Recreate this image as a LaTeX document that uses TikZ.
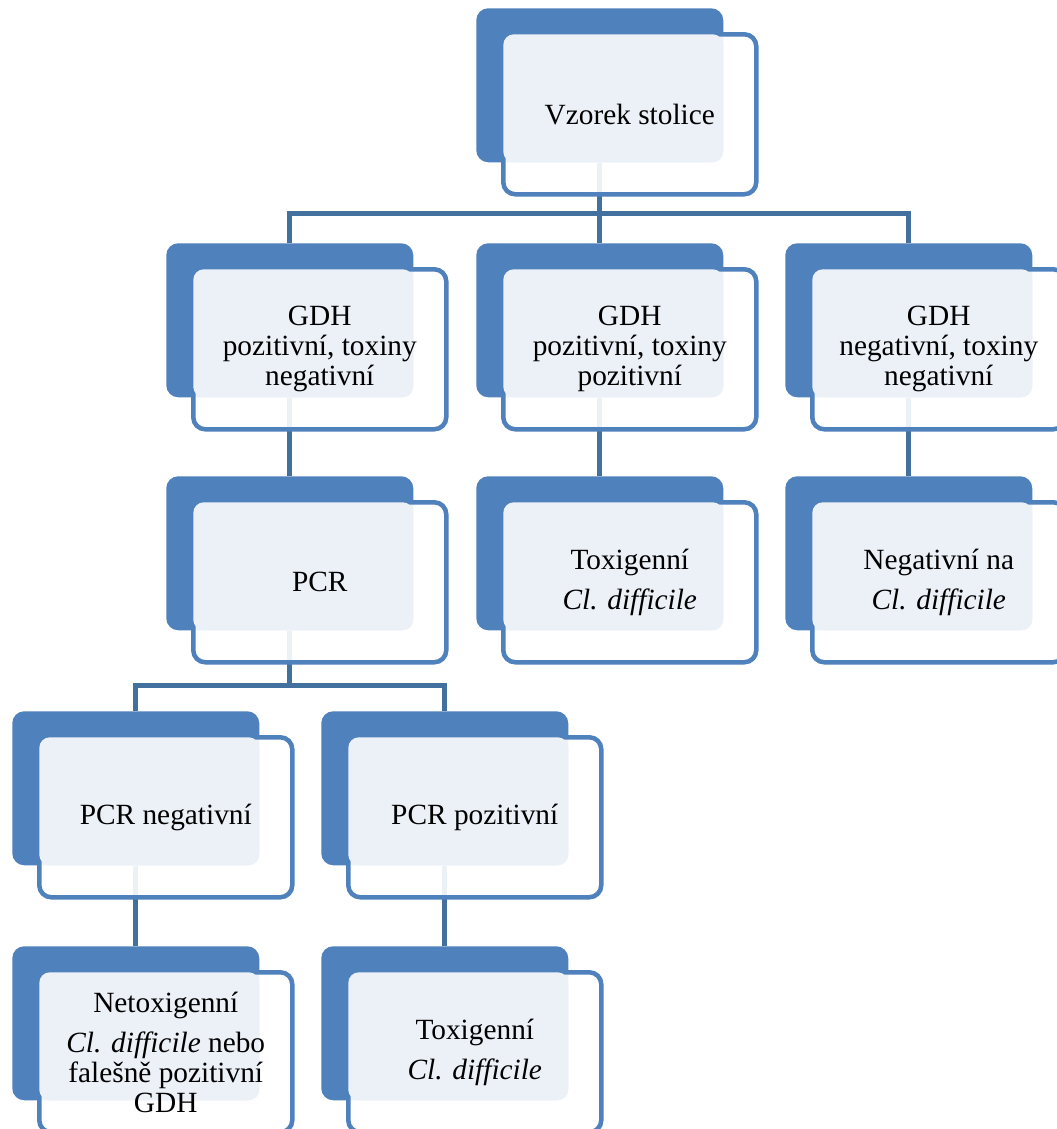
\documentclass[tikz,border=0pt]{standalone}
\usepackage{fontspec}
\setmainfont{Liberation Serif}
\usetikzlibrary{backgrounds}

\definecolor{boxblue}{RGB}{79,129,189}
\definecolor{linkblue}{RGB}{65,113,156}
\definecolor{paleblue}{RGB}{236,240,247}

\tikzset{
  backbox/.style={fill=boxblue, rounded corners=9pt, inner sep=0pt,
    minimum width=185.25pt, minimum height=115.5pt, anchor=north west},
  framebox/.style={draw=boxblue, line width=3.4pt, fill=white, fill opacity=0.9,
    rounded corners=9pt, inner sep=0pt,
    minimum width=189.75pt, minimum height=120pt, anchor=north west},
  lightbox/.style={fill=paleblue, rounded corners=8pt, inner sep=0pt,
    minimum width=165pt, minimum height=96pt, anchor=north west},
  boxtext/.style={font=\fontsize{22}{22.5}\selectfont, align=center, inner sep=0pt},
  link/.style={draw=linkblue, line width=3.6pt}
}

% one hierarchy box: name, left, top (pixels), text
\newcommand{\hierbox}[4]{%
  \node[backbox] (#1-b) at (#2,#3) {};
  \node[framebox] (#1-f) at ({#2+25},{#3+24}) {};
  \node[lightbox] (#1-l) at ({#2+27},{#3+26}) {};
  \node[boxtext] (#1) at (#1-f.center) {#4};
}

\begin{document}
\begin{tikzpicture}[x=0.75pt,y=-0.75pt]
  \useasboundingbox (0,0) rectangle (1057,1129);

  % Level 1
  \hierbox{vzorek}{476}{8}{Vzorek stolice}

  % Level 2
  \hierbox{gdhA}{166}{243}{GDH\\pozitivní, toxiny\\negativní}
  \hierbox{gdhB}{476}{243}{GDH\\pozitivní, toxiny\\pozitivní}
  \hierbox{gdhC}{785}{243}{GDH\\negativní, toxiny\\negativní}

  % Level 3
  \hierbox{pcr}{166}{476}{PCR}
  \hierbox{toxA}{476}{476}{Toxigenní\\[7pt]\textit{Cl. difficile}}
  \hierbox{negat}{785}{476}{Negativní na\\[7pt]\textit{Cl. difficile}}

  % Level 4
  \hierbox{pcrneg}{12}{711}{PCR negativní}
  \hierbox{pcrpos}{321}{711}{PCR pozitivní}

  % Level 5
  \hierbox{netox}{12}{946}{Netoxigenní\\[7pt]\textit{Cl. difficile} nebo\\falešně pozitivní\\GDH}
  \hierbox{toxB}{321}{946}{Toxigenní\\[7pt]\textit{Cl. difficile}}

  % Connectors
  \path (vzorek-b.south) ++(0,51) coordinate (busA);
  \path (pcr-b.south) ++(0,55) coordinate (busB);
  \begin{scope}[on background layer]
    \fill[white] (0,0) rectangle (1057,1129);
    \draw[link] (vzorek-b.south) -- (gdhB-b.north);
    \draw[link] (gdhA-b.north) |- (busA) -| (gdhC-b.north);
    \draw[link] (gdhA-b.south) -- (pcr-b.north);
    \draw[link] (gdhB-b.south) -- (toxA-b.north);
    \draw[link] (gdhC-b.south) -- (negat-b.north);
    \draw[link] (pcr-b.south) -- (busB);
    \draw[link] (pcrneg-b.north) |- (busB) -| (pcrpos-b.north);
    \draw[link] (pcrneg-b.south) -- (netox-b.north);
    \draw[link] (pcrpos-b.south) -- (toxB-b.north);
  \end{scope}
\end{tikzpicture}
\end{document}
